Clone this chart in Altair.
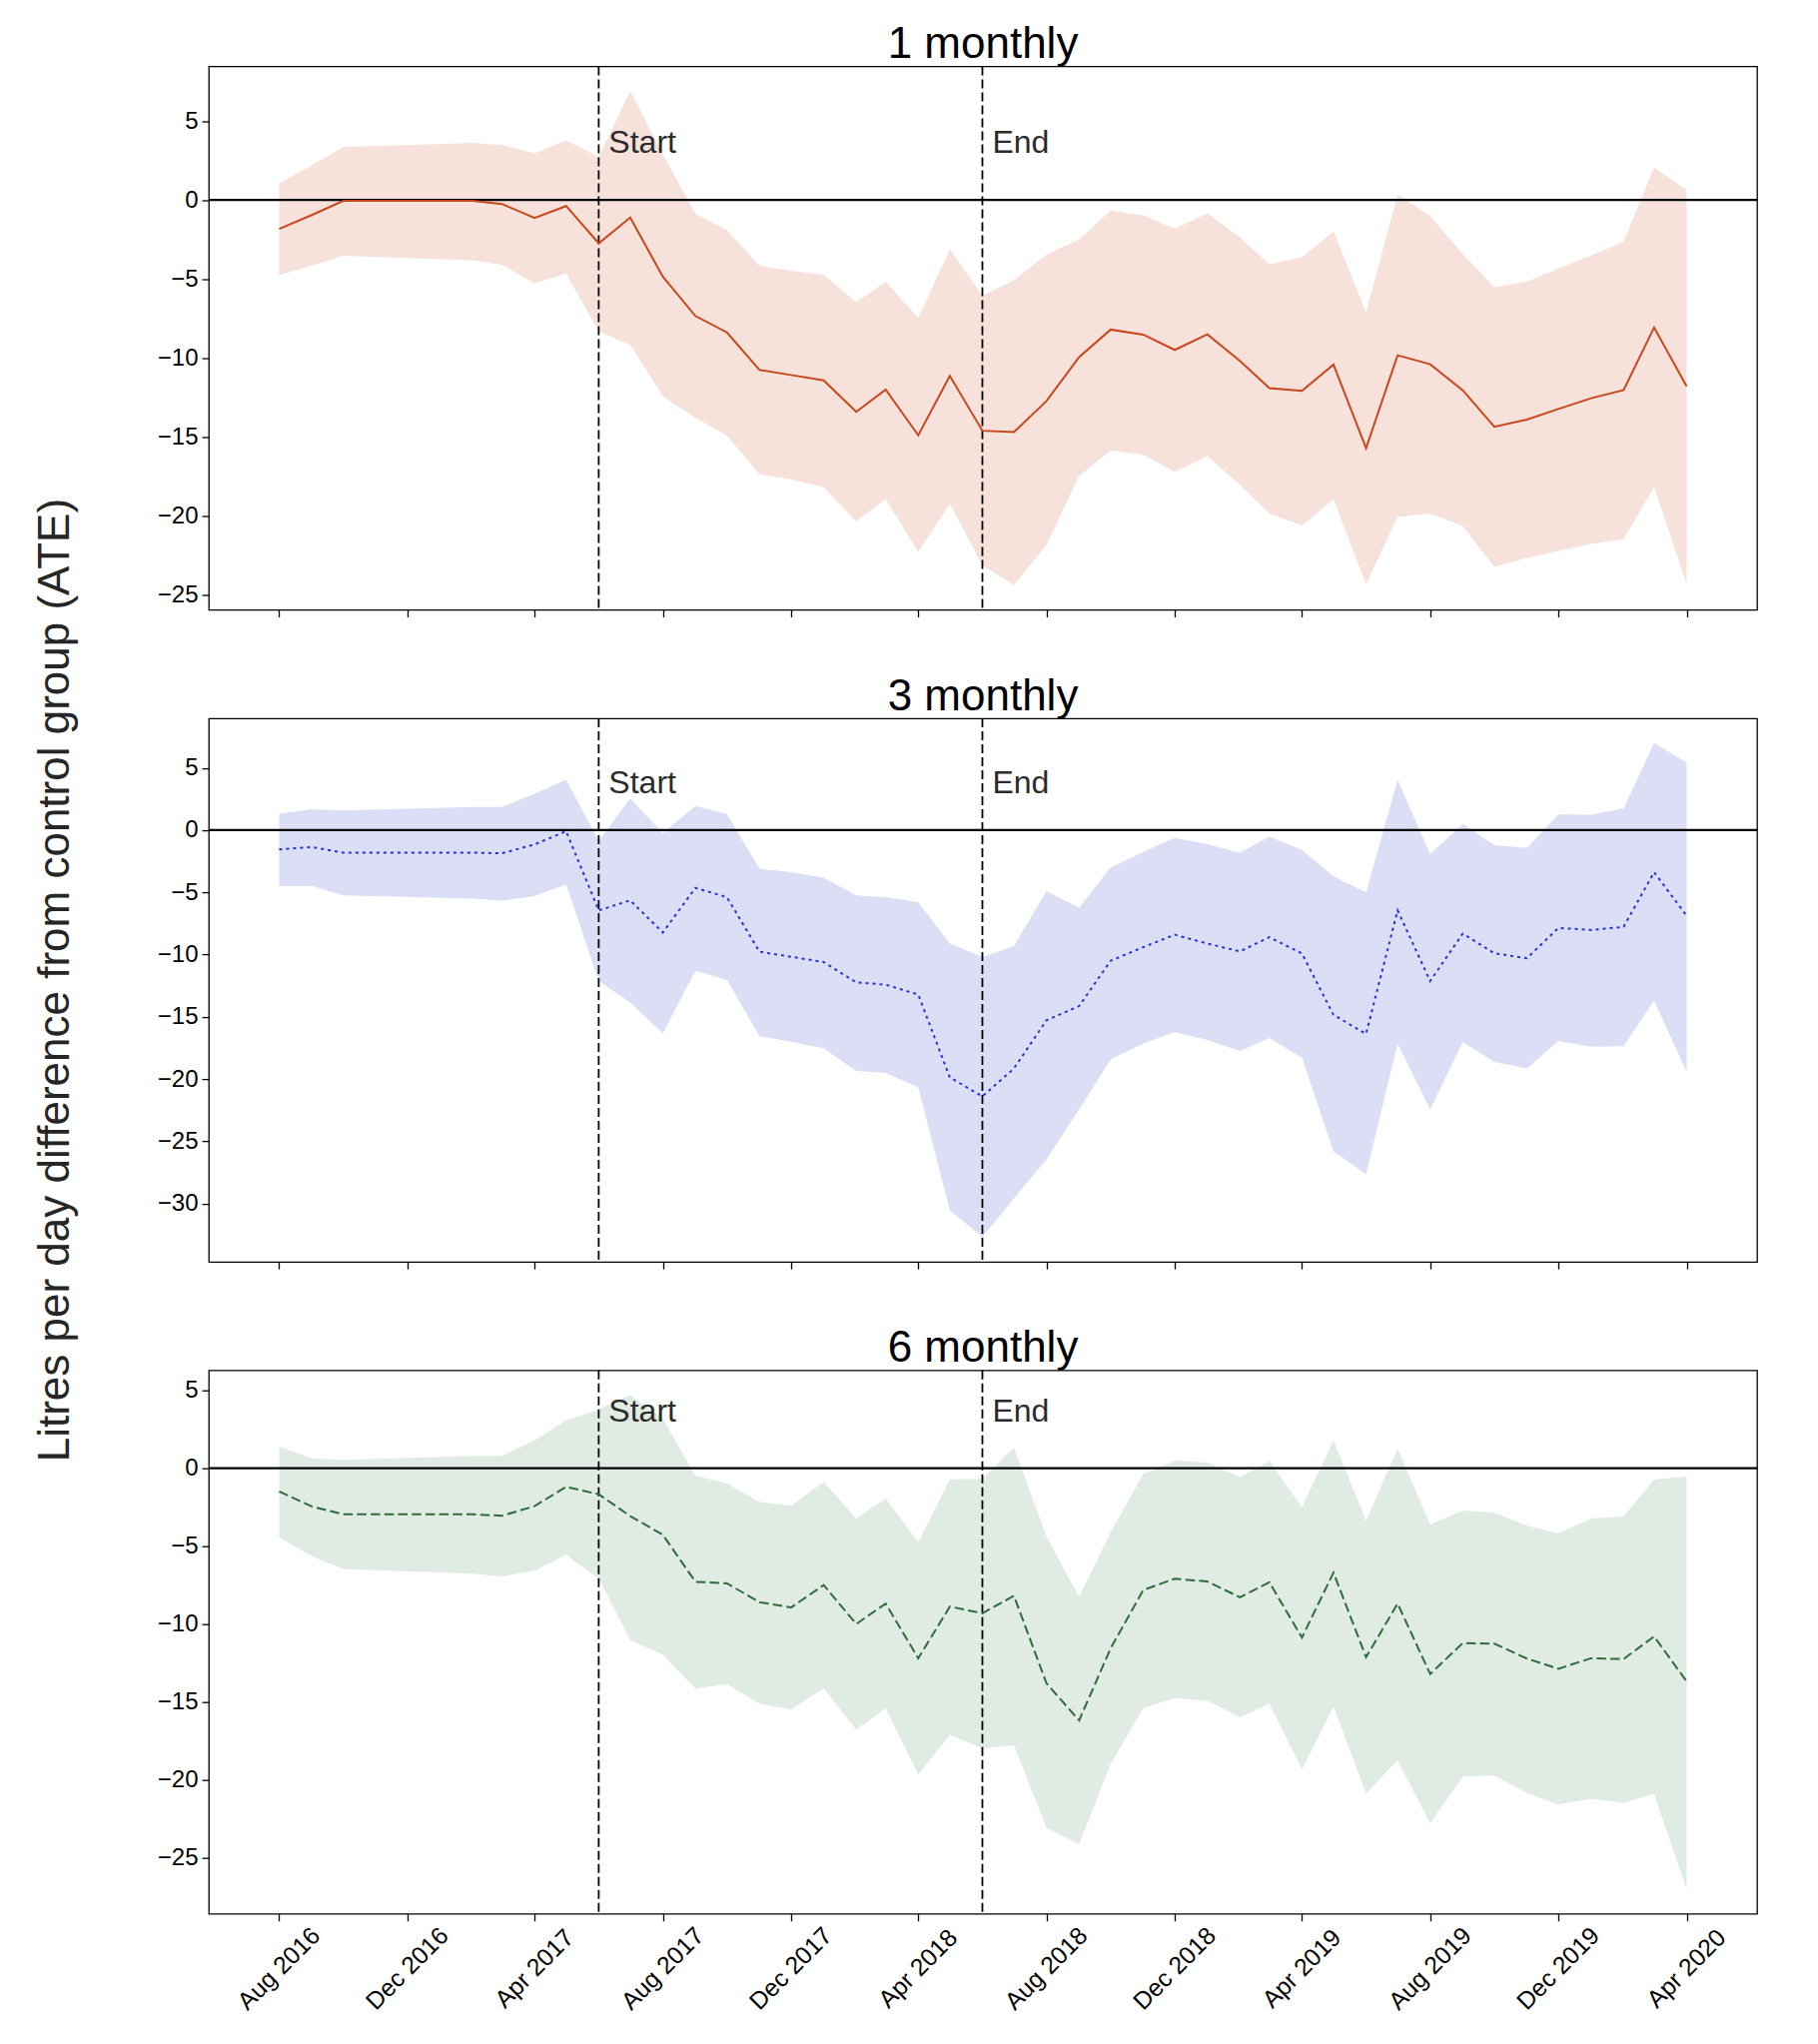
import altair as alt
import pandas as pd

# ---------------- data ----------------
dates = [
    "2016-08-01", "2016-09-01", "2016-10-01", "2017-02-01", "2017-03-01", "2017-04-01",
    "2017-05-01", "2017-06-01", "2017-07-01", "2017-08-01", "2017-09-01", "2017-10-01",
    "2017-11-01", "2017-12-01", "2018-01-01", "2018-02-01", "2018-03-01", "2018-04-01",
    "2018-05-01", "2018-06-01", "2018-07-01", "2018-08-01", "2018-09-01", "2018-10-01",
    "2018-11-01", "2018-12-01", "2019-01-01", "2019-02-01", "2019-03-01", "2019-04-01",
    "2019-05-01", "2019-06-01", "2019-07-01", "2019-08-01", "2019-09-01", "2019-10-01",
    "2019-11-01", "2019-12-01", "2020-01-01", "2020-02-01", "2020-03-01", "2020-04-01",
]

ate_1 = [-1.83, -0.95, -0.05, -0.05, -0.25, -1.13, -0.38, -2.74, -1.11, -4.86, -7.35, -8.39,
         -10.77, -11.09, -11.43, -13.42, -12.01, -14.91, -11.15, -14.62, -14.71, -12.74, -9.95, -8.21,
         -8.53, -9.50, -8.51, -10.2, -11.92, -12.10, -10.43, -15.72, -9.84, -10.41, -12.06, -14.37,
         -13.91, -13.24, -12.56, -12.04, -8.08, -11.81]
upper_1 = [1.06, 2.2, 3.35, 3.62, 3.48, 2.96, 3.78, 2.74, 6.90, 2.9, -0.86, -1.92,
           -4.16, -4.48, -4.73, -6.47, -5.18, -7.47, -3.12, -6.06, -5.09, -3.46, -2.51, -0.66,
           -0.97, -1.83, -0.84, -2.38, -4.07, -3.62, -1.99, -7.13, 0.34, -1.02, -3.42, -5.52,
           -5.18, -4.34, -3.51, -2.65, 2.06, 0.63]
lower_1 = [-4.77, -4.15, -3.53, -3.82, -4.10, -5.27, -4.66, -8.33, -9.19, -12.44, -13.8, -14.93,
           -17.38, -17.7, -18.21, -20.36, -18.96, -22.31, -19.25, -23.14, -24.41, -21.86, -17.47, -15.86,
           -16.15, -17.22, -16.22, -18.05, -19.86, -20.63, -18.96, -24.34, -20.09, -19.86, -20.66, -23.26,
           -22.69, -22.24, -21.79, -21.49, -18.21, -24.32]

ate_3 = [-1.55, -1.35, -1.81, -1.81, -1.86, -1.15, -0.09, -6.45, -5.64, -8.22, -4.64, -5.39,
         -9.77, -10.17, -10.6, -12.23, -12.41, -13.21, -19.86, -21.38, -19.14, -15.27, -14.13, -10.49,
         -9.40, -8.40, -9.11, -9.74, -8.60, -9.91, -14.84, -16.36, -6.45, -12.12, -8.31, -9.89,
         -10.29, -7.85, -8.02, -7.77, -3.38, -6.88]
upper_3 = [1.32, 1.69, 1.58, 1.86, 1.86, 2.92, 4.04, -0.86, 2.55, -0.23, 1.95, 1.29,
           -3.09, -3.38, -3.81, -5.24, -5.39, -5.79, -9.11, -10.2, -9.31, -4.9, -6.25, -3.01,
           -1.75, -0.63, -1.12, -1.83, -0.52, -1.58, -3.72, -4.99, 4.04, -1.92, 0.49, -1.2,
           -1.43, 1.26, 1.23, 1.75, 6.99, 5.44]
lower_3 = [-4.47, -4.47, -5.24, -5.5, -5.67, -5.3, -4.36, -12.12, -13.84, -16.33, -11.29, -12.03,
           -16.56, -16.99, -17.51, -19.34, -19.51, -20.66, -30.54, -32.69, -29.57, -26.45, -22.44, -18.42,
           -17.13, -16.22, -16.85, -17.74, -16.7, -18.28, -25.79, -27.65, -17.13, -22.44, -17.02, -18.62,
           -19.14, -16.93, -17.39, -17.36, -13.7, -19.43]

ate_6 = [-1.49, -2.45, -2.96, -2.96, -3.05, -2.43, -1.19, -1.67, -3.07, -4.27, -7.29, -7.39,
         -8.6, -8.94, -7.5, -10.0, -8.69, -12.2, -8.88, -9.31, -8.19, -13.81, -16.19, -11.56,
         -7.82, -7.09, -7.27, -8.28, -7.32, -10.87, -6.70, -12.13, -8.69, -13.21, -11.22, -11.26,
         -12.22, -12.87, -12.2, -12.25, -10.8, -13.69]
upper_6 = [1.40, 0.64, 0.53, 0.80, 0.80, 1.79, 3.07, 3.76, 4.70, 3.19, -0.48, -0.96,
           -2.16, -2.41, -0.87, -3.23, -1.95, -4.75, -0.71, -0.67, 1.33, -4.4, -8.26, -4.11,
           -0.37, 0.50, 0.37, -0.57, 0.48, -2.5, 1.79, -3.35, 1.24, -3.62, -2.71, -2.84,
           -3.69, -4.17, -3.23, -3.10, -0.73, -0.53]
lower_6 = [-4.43, -5.64, -6.47, -6.77, -6.95, -6.58, -5.55, -7.09, -11.03, -11.97, -14.15, -13.85,
           -15.11, -15.5, -14.11, -16.79, -15.41, -19.66, -17.11, -17.98, -17.78, -23.07, -24.13, -18.97,
           -15.39, -14.75, -14.93, -15.99, -15.11, -19.36, -15.3, -20.89, -18.74, -22.8, -19.79, -19.72,
           -20.85, -21.58, -21.22, -21.47, -20.92, -27.02]

event_dates = ["2017-06-01", "2018-06-01"]
event_labels = ["Start", "End"]
event_label_y = 3

panel_titles = ["1 monthly", "3 monthly", "6 monthly"]
tick_dates = [(2016, 8), (2016, 12), (2017, 4), (2017, 8), (2017, 12), (2018, 4),
              (2018, 8), (2018, 12), (2019, 4), (2019, 8), (2019, 12), (2020, 4)]
y_title = "Litres per day difference from control group (ATE)"

# ---------------- styling ----------------
FONT = "Liberation Sans"
W, H = 1550, 544

x_scale = alt.Scale(
    type="utc",
    domain=[alt.DateTime(year=2016, month=5, date=26, hours=1, utc=True),
            alt.DateTime(year=2020, month=6, date=6, hours=23, utc=True)],
)
x_values = [alt.DateTime(year=y, month=m, date=1, utc=True) for y, m in tick_dates]

events = pd.DataFrame({"date": event_dates, "label": event_labels, "y": [event_label_y] * 2})


def panel(title, ate, upper, lower, line_color, fill_color, dash, bottom, extra=None):
    df = pd.DataFrame({"date": dates, "ate": ate, "upper": upper, "lower": lower})
    lo = min(lower + ate)
    hi = max(upper + ate)
    pad = 0.05 * (hi - lo)
    y_scale = alt.Scale(domain=[lo - pad, hi + pad], nice=False, zero=False)
    y_vals = [v for v in range(-40, 15, 5) if lo - pad <= v <= hi + pad]

    if bottom:
        x_axis = alt.Axis(values=x_values, labelExpr="utcFormat(datum.value, '%b %Y')",
                          labelAngle=-45, labelAlign="center", labelBaseline="middle",
                          labelPadding=48, labelFont=FONT, labelFontSize=24.5, labelColor="black",
                          tickColor="black", tickSize=7, tickWidth=1.3, domain=False,
                          grid=False, title=None, labelOverlap=False, labelFlush=False)
    else:
        x_axis = alt.Axis(values=x_values, labels=False, tickColor="black", tickSize=7,
                          tickWidth=1.3, domain=False, grid=False, title=None)
    y_axis = alt.Axis(values=y_vals, format="d", labelFont=FONT, labelFontSize=24,
                      labelColor="black", tickColor="black", tickSize=7, tickWidth=1.3,
                      labelPadding=4, domain=False, grid=False, title=None)

    X = lambda f: alt.X(f, scale=x_scale, axis=x_axis, title=None)
    Y = lambda f: alt.Y(f, scale=y_scale, axis=y_axis, title=None)

    base = alt.Chart(df)
    band = base.mark_area(color=fill_color, opacity=1).encode(
        x=X("date:T"), y=Y("lower:Q"), y2="upper:Q",
    )
    zero = alt.Chart(pd.DataFrame({"z": [0]})).mark_rule(color="black", strokeWidth=2.2).encode(
        y=Y("z:Q")
    )
    vlines = alt.Chart(events).mark_rule(color="black", strokeWidth=1.8, strokeDash=[9, 4]).encode(
        x=X("date:T")
    )
    vtext = alt.Chart(events).mark_text(align="left", baseline="alphabetic", dx=10, font=FONT,
                                        fontSize=32, color="#2b2b2b").encode(
        x=X("date:T"), y=Y("y:Q"), text="label:N",
    )
    line_kwargs = dict(color=line_color, strokeWidth=2.0)
    if dash:
        line_kwargs["strokeDash"] = dash
    line = base.mark_line(**line_kwargs).encode(x=X("date:T"), y=Y("ate:Q"))
    ttl = alt.Chart(pd.DataFrame({"t": [title]})).mark_text(
        align="center", baseline="alphabetic", font=FONT, fontSize=44, color="black"
    ).encode(x=alt.value(W / 2), y=alt.value(-8.5), text="t:N")
    layers = [band, zero, vlines, vtext, line, ttl]
    if extra is not None:
        layers.append(extra)
    return alt.layer(*layers).properties(width=W, height=H)


ylab = alt.Chart(pd.DataFrame({"t": [y_title]})).mark_text(
    align="center", baseline="alphabetic", angle=270, font=FONT, fontSize=44, color="#262626"
).encode(x=alt.value(-140), y=alt.value(262), text="t:N")

p1 = panel(panel_titles[0], ate_1, upper_1, lower_1, "#C9461C", "#F6E2DB", None, False)
p2 = panel(panel_titles[1], ate_3, upper_3, lower_3, "#2233D8", "#DCDEF5", [3, 4], False, extra=ylab)
p3 = panel(panel_titles[2], ate_6, upper_6, lower_6, "#2F6B3B", "#E0EBE3", [9.5, 4.2], True)

chart = alt.VConcatChart(vconcat=[p1, p2, p3], spacing=108.6, bounds="flush").properties(
    padding={"left": 25, "top": 13.5, "right": 20, "bottom": 10},
    background="white",
).configure_view(stroke="black", strokeWidth=1.3)

chart.save("out.html", embed_options={"renderer": "svg", "actions": False})
